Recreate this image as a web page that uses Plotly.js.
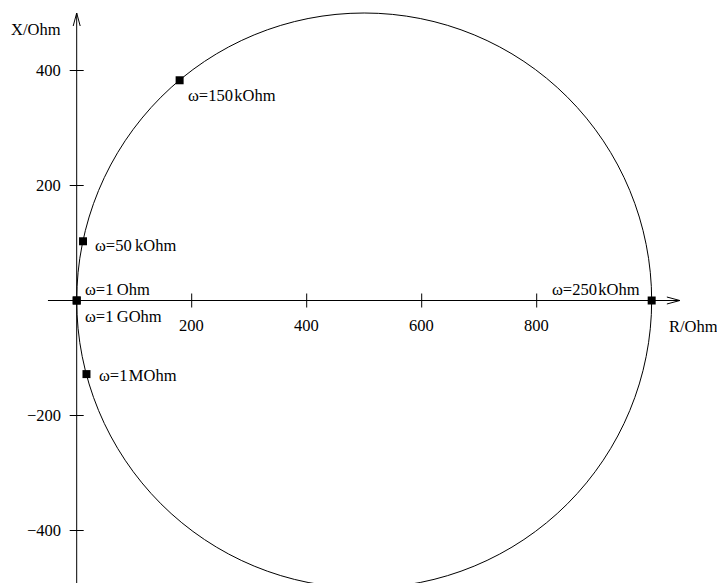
<!DOCTYPE html>
<html>
<head>
<meta charset="utf-8">
<script src="https://cdn.plot.ly/plotly-3.0.1.min.js"></script>
<style>html,body{margin:0;padding:0;background:#fff;}#chart{width:717px;height:583px;}</style>
</head>
<body>
<div id="chart"></div>
<script>
// ---- data ----
const pointLabels = ["ω=1\u2009Ohm", "ω=50\u2009kOhm", "ω=150\u200AkOhm", "ω=250\u200AkOhm", "ω=1\u200AMOhm", "ω=1\u2009GOhm"];
const pointR = [0, 11, 179, 1000, 17, 0];
const pointX = [0, 103, 383, 0, -128, 0];
const circleCenterR = [500];
const circleRadius = [500];
const xTickVals = [200, 400, 600, 800];
const xTickText = ["200", "400", "600", "800"];
const yTickVals = [400, 200, -200, -400];
const yTickText = ["400", "200", "\u2212200", "\u2212400"];
const xAxisExtent = [-50, 1049];
const yAxisExtent = [-540, 500];
const xAxisTitle = "R/Ohm";
const yAxisTitle = "X/Ohm";

// ---- label placement (styling, not data) ----
const labelStyle = [
  {anchor: "left", dx: 6, dy: 11.5},
  {anchor: "left", dx: 10, dy: -4},
  {anchor: "left", dx: 6, dy: -15},
  {anchor: "right", dx: -10, dy: 11.5},
  {anchor: "left", dx: 10.5, dy: -1},
  {anchor: "left", dx: 6, dy: -16}
];

const FONT = {family: "Liberation Serif, Times New Roman, serif", size: 16.5, color: "#000"};
const shapes = [];
const annotations = [];

// circle
shapes.push({
  type: "circle", xref: "x", yref: "y",
  x0: circleCenterR[0] - circleRadius[0], x1: circleCenterR[0] + circleRadius[0],
  y0: -circleRadius[0], y1: circleRadius[0],
  line: {color: "#000", width: 1}
});

// axis lines
shapes.push({type: "line", xref: "x", yref: "y", x0: xAxisExtent[0], x1: xAxisExtent[1], y0: 0, y1: 0, line: {color: "#000", width: 1}});
shapes.push({type: "line", xref: "x", yref: "y", x0: 0, x1: 0, y0: yAxisExtent[0], y1: yAxisExtent[1], line: {color: "#000", width: 1}});

// arrowheads (open V)
shapes.push({type: "path", xref: "x", yref: "y", xsizemode: "pixel", ysizemode: "pixel",
  xanchor: xAxisExtent[1], yanchor: 0, path: "M -13,-3.5 L 0,0 L -13,3.5", line: {color: "#000", width: 1}});
shapes.push({type: "path", xref: "x", yref: "y", xsizemode: "pixel", ysizemode: "pixel",
  xanchor: 0, yanchor: yAxisExtent[1], path: "M -3.5,-13 L 0,0 L 3.5,-13", line: {color: "#000", width: 1}});

// ticks
xTickVals.forEach((v, i) => {
  shapes.push({type: "line", xref: "x", yref: "y", ysizemode: "pixel", yanchor: 0,
    x0: v, x1: v, y0: -7, y1: 7, line: {color: "#000", width: 1}});
  annotations.push({x: v, y: 0, xref: "x", yref: "y", text: xTickText[i], showarrow: false,
    xanchor: "center", yanchor: "middle", yshift: -24.5, font: FONT});
});
yTickVals.forEach((v, i) => {
  shapes.push({type: "line", xref: "x", yref: "y", xsizemode: "pixel", xanchor: 0,
    x0: -7, x1: 7, y0: v, y1: v, line: {color: "#000", width: 1}});
  annotations.push({x: 0, y: v, xref: "x", yref: "y", text: yTickText[i], showarrow: false,
    xanchor: "right", yanchor: "middle", xshift: -14, font: FONT});
});

// axis titles
annotations.push({x: 0, y: yAxisExtent[1], xref: "x", yref: "y", text: yAxisTitle, showarrow: false,
  xanchor: "right", yanchor: "middle", xshift: -13.5, yshift: -16, font: FONT});
annotations.push({x: xAxisExtent[1], y: 0, xref: "x", yref: "y", text: xAxisTitle, showarrow: false,
  xanchor: "left", yanchor: "middle", xshift: -13, yshift: -25.5, font: FONT});

// point labels
pointLabels.forEach((t, i) => {
  const s = labelStyle[i];
  annotations.push({x: pointR[i], y: pointX[i], xref: "x", yref: "y", text: t, showarrow: false,
    xanchor: s.anchor, yanchor: "middle", xshift: s.dx, yshift: s.dy, font: FONT});
});

const trace = {
  x: pointR, y: pointX, type: "scatter", mode: "markers",
  marker: {symbol: "square", size: 8, color: "#000", line: {width: 0}},
  hoverinfo: "skip", cliponaxis: false
};

const layout = {
  width: 717, height: 583,
  margin: {l: 0, r: 0, t: 0, b: 0, pad: 0},
  paper_bgcolor: "#fff", plot_bgcolor: "#fff",
  showlegend: false,
  xaxis: {range: [-133.4, 1113.6], visible: false, fixedrange: true},
  yaxis: {range: [-491.3, 522.6], visible: false, fixedrange: true},
  shapes: shapes,
  annotations: annotations
};

Plotly.newPlot("chart", [trace], layout, {displayModeBar: false, staticPlot: true});
</script>
</body>
</html>
